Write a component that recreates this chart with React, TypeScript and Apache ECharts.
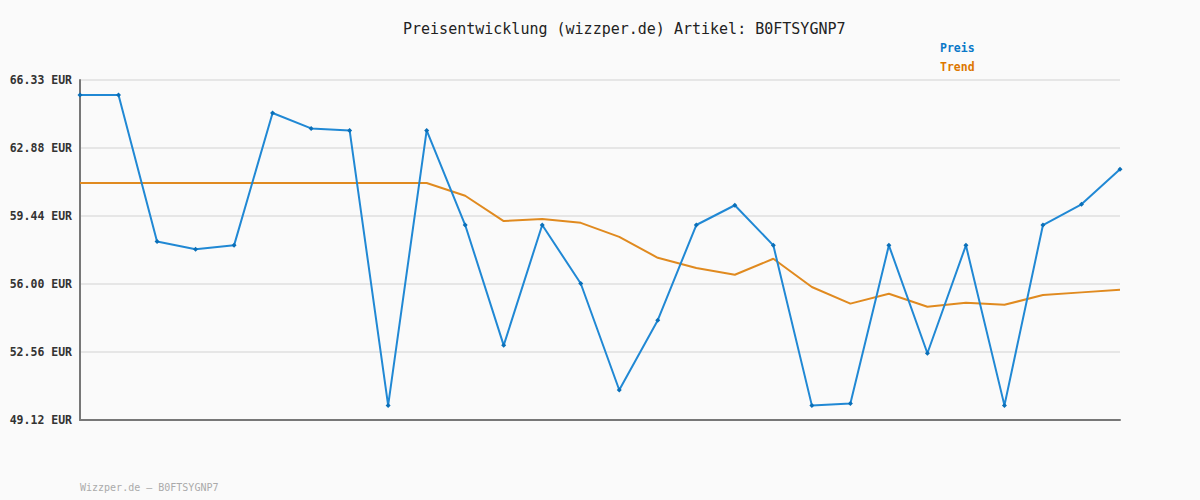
import React, { useEffect, useRef } from "react";
import * as echarts from "echarts";

const categories = [
  "1", "2", "3", "4", "5", "6", "7", "8", "9", "10", "11", "12", "13", "14",
  "15", "16", "17", "18", "19", "20", "21", "22", "23", "24", "25", "26", "27", "28",
];

const preis = [
  65.57, 65.57, 58.16, 57.76, 57.96, 64.66, 63.88, 63.78, 49.86, 63.78,
  58.99, 52.9, 58.99, 56.03, 50.64, 54.17, 58.99, 59.99, 57.96, 49.86,
  49.96, 57.96, 52.5, 57.96, 49.86, 58.99, 60.04, 61.81,
];

const trend = [
  61.12, 61.12, 61.12, 61.12, 61.12, 61.12, 61.12, 61.12, 61.12, 61.12,
  60.47, 59.19, 59.29, 59.1, 58.39, 57.33, 56.81, 56.47, 57.28, 55.85,
  55.01, 55.51, 54.85, 55.06, 54.95, 55.45, 55.58, 55.71,
];

const tickValues = [49.12, 52.562, 56.004, 59.446, 62.888, 66.33];
const tickLabels = ["49.12 EUR", "52.56 EUR", "56.00 EUR", "59.44 EUR", "62.88 EUR", "66.33 EUR"];

const MONO = "'DejaVu Sans Mono', 'Liberation Mono', monospace";

export default function App() {
  const ref = useRef<HTMLDivElement>(null);
  useEffect(() => {
    if (!ref.current) return;
    const chart = echarts.init(ref.current, undefined, { renderer: "svg" });
    chart.setOption({
      animation: false,
      backgroundColor: "#fafafa",
      title: {
        text: "Preisentwicklung (wizzper.de) Artikel: B0FTSYGNP7",
        left: 398,
        top: 16,
        textStyle: { fontFamily: MONO, fontSize: 15, fontWeight: "normal", color: "#222" },
      },
      legend: {
        orient: "vertical",
        left: 930,
        top: 36,
        icon: "none",
        itemWidth: 0,
        itemHeight: 14,
        itemGap: 6,
        selectedMode: false,
        textStyle: { fontFamily: MONO, fontSize: 11.5, fontWeight: "bold" },
        data: [
          { name: "Preis", textStyle: { color: "#0a78c8" } },
          { name: "Trend", textStyle: { color: "#dd7700" } },
        ],
      },
      grid: { left: 80, right: 80, top: 80, bottom: 80, containLabel: false },
      xAxis: {
        type: "category",
        data: categories,
        boundaryGap: false,
        axisLine: { show: true, lineStyle: { color: "#777", width: 2 } },
        axisTick: { show: false },
        axisLabel: { show: false },
        splitLine: { show: false },
      },
      yAxis: {
        type: "value",
        min: tickValues[0],
        max: tickValues[tickValues.length - 1],
        axisLine: { show: true, lineStyle: { color: "#777", width: 2 } },
        axisTick: { show: false, customValues: tickValues },
        axisLabel: {
          customValues: tickValues,
          margin: 8,
          fontFamily: MONO,
          fontSize: 11.5,
          fontWeight: "bold",
          color: "#333",
          formatter: (v: number) => {
            let best = 0;
            for (let i = 0; i < tickValues.length; i++) {
              if (Math.abs(tickValues[i] - v) < Math.abs(tickValues[best] - v)) best = i;
            }
            return tickLabels[best];
          },
        },
        splitLine: { show: true, lineStyle: { color: "#e6e6e6", width: 2 } },
      },
      graphic: [
        {
          type: "text",
          left: 80,
          top: 482,
          style: {
            text: "Wizzper.de – B0FTSYGNP7",
            fontFamily: MONO,
            fontSize: 10,
            fill: "#aaa",
          },
        },
      ],
      series: [
        {
          name: "Trend",
          type: "line",
          data: trend,
          showSymbol: false,
          symbol: "none",
          lineStyle: { color: "#e08a1f", width: 2 },
          itemStyle: { color: "#e08a1f" },
          z: 2,
        },
        {
          name: "Preis",
          type: "line",
          data: preis,
          symbol: "diamond",
          symbolSize: 5,
          showSymbol: true,
          lineStyle: { color: "#2088d4", width: 2 },
          itemStyle: { color: "#0a6fb8" },
          z: 3,
        },
      ],
    });
    return () => chart.dispose();
  }, []);
  return (
    <div
      ref={ref}
      style={{ position: "absolute", left: 0, top: 0, width: 1200, height: 500 }}
    />
  );
}
